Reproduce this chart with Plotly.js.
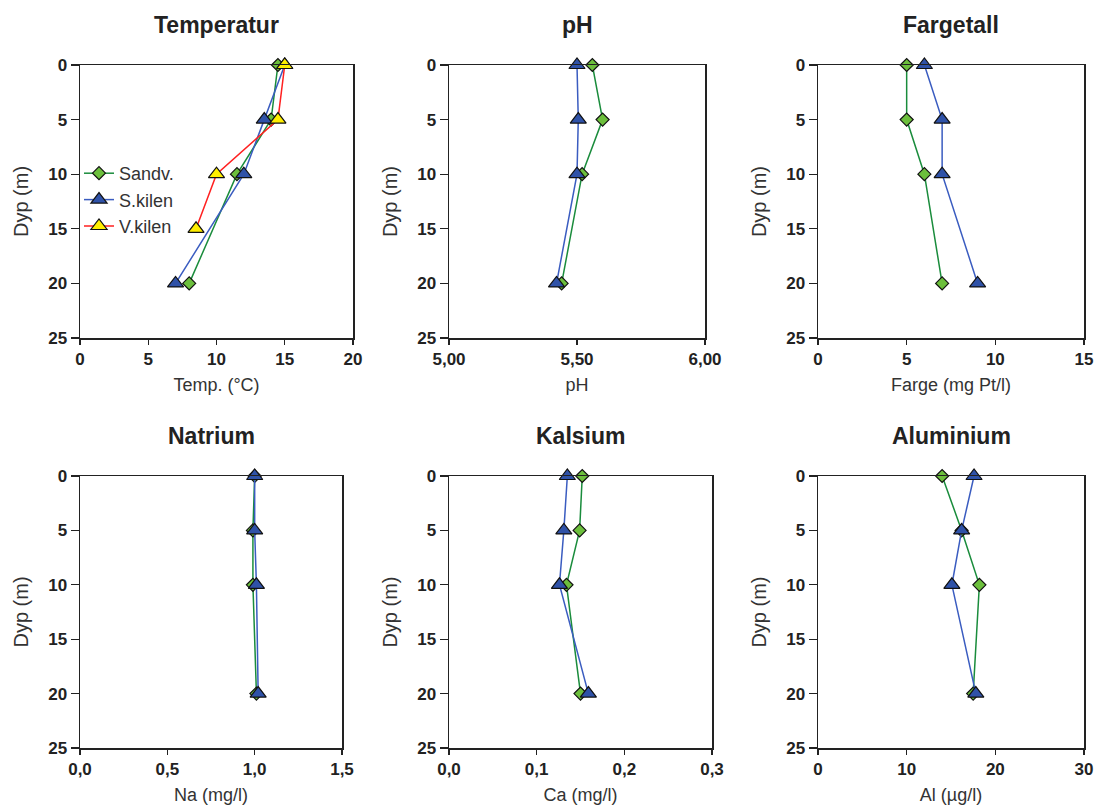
<!DOCTYPE html>
<html>
<head>
<meta charset="utf-8">
<script src="https://cdn.plot.ly/plotly-3.0.1.min.js"></script>
<style>
  html, body { margin: 0; padding: 0; background: #fff; }
  #chart { width: 1096px; height: 809px; }
</style>
</head>
<body>
<div id="chart"></div>
<script>
// depths (m)
const depths = [0, 5, 10, 20];
const depthsV = [0, 5, 10, 15];

// Temperatur (°C)
const tempSandv = [14.5, 14, 11.5, 8];
const tempSkilen = [15, 13.5, 12, 7];
const tempVkilen = [15, 14.5, 10, 8.5];

// pH
const phSandv = [5.56, 5.60, 5.52, 5.44];
const phSkilen = [5.50, 5.505, 5.50, 5.42];

// Fargetall (mg Pt/l)
const fargeSandv = [5, 5, 6, 7];
const fargeSkilen = [6, 7, 7, 9];

// Natrium (mg/l)
const naSandv = [1.00, 0.99, 0.99, 1.01];
const naSkilen = [1.00, 1.00, 1.01, 1.02];

// Kalsium (mg/l)
const caSandv = [0.152, 0.149, 0.134, 0.150];
const caSkilen = [0.135, 0.131, 0.126, 0.159];

// Aluminium (µg/l)
const alSandv = [14, 16.2, 18.2, 17.5];
const alSkilen = [17.6, 16.2, 15.1, 17.8];

const W = 1096, H = 809;
const fontFam = 'Liberation Sans, Arial, sans-serif';

const style = {
    sandv: { name: 'Sandv.', line: '#1a8c3c', fill: '#6cbf3c', symbol: 'diamond', size: 10 },
    skilen: { name: 'S.kilen', line: '#3a5cc0', fill: '#2f52a8', symbol: 'triangle-up', size: 14 },
    vkilen: { name: 'V.kilen', line: '#ff2020', fill: '#ffee00', symbol: 'triangle-up', size: 14 }
};

// panel boxes in pixels [left, right, top, bottom]
const panels = [
    { title: 'Temperatur', xt: 'Temp. (°C)', box: [80, 353, 65, 338], range: [0, 20], dtick: 5, fmt: 'd' },
    { title: 'pH', xt: 'pH', box: [449, 705, 65, 338], range: [5, 6], dtick: 0.5, fmt: '.2f' },
    { title: 'Fargetall', xt: 'Farge (mg Pt/l)', box: [818, 1084, 65, 338], range: [0, 15], dtick: 5, fmt: 'd' },
    { title: 'Natrium', xt: 'Na (mg/l)', box: [80, 342, 476, 748], range: [0, 1.5], dtick: 0.5, fmt: '.1f' },
    { title: 'Kalsium', xt: 'Ca (mg/l)', box: [449, 712, 476, 748], range: [0, 0.3], dtick: 0.1, fmt: '.1f' },
    { title: 'Aluminium', xt: 'Al (µg/l)', box: [818, 1084, 476, 748], range: [0, 30], dtick: 10, fmt: 'd' }
];

const panelData = [
    [[tempSandv, depths, style.sandv], [tempSkilen, depths, style.skilen], [tempVkilen, depthsV, style.vkilen]],
    [[phSandv, depths, style.sandv], [phSkilen, depths, style.skilen]],
    [[fargeSandv, depths, style.sandv], [fargeSkilen, depths, style.skilen]],
    [[naSandv, depths, style.sandv], [naSkilen, depths, style.skilen]],
    [[caSandv, depths, style.sandv], [caSkilen, depths, style.skilen]],
    [[alSandv, depths, style.sandv], [alSkilen, depths, style.skilen]]
];

let traces = [];
let layout = {
    width: W, height: H,
    margin: { l: 0, r: 0, t: 0, b: 0 },
    paper_bgcolor: '#fff', plot_bgcolor: '#fff',
    font: { family: fontFam, color: '#222' },
    separators: ', ',
    showlegend: true,
    legend: {
        x: 79 / W, y: 1 - 155 / H, xanchor: 'left', yanchor: 'top',
        bgcolor: 'rgba(0,0,0,0)', font: { size: 18, color: '#333' },
        itemwidth: 30, tracegroupgap: 0
    },
    annotations: []
};

panels.forEach((p, i) => {
    const n = i + 1;
    const xa = n === 1 ? 'x' : 'x' + n;
    const ya = n === 1 ? 'y' : 'y' + n;
    const [l, r, t, b] = p.box;
    const axisCommon = {
        showline: true, linecolor: '#222', linewidth: 1.5, mirror: true,
        showgrid: false, zeroline: false, ticks: 'outside',
        tickcolor: '#222', tickwidth: 1.2,
        tickfont: { family: fontFam, size: 17, color: '#222', weight: 'bold' }
    };
    layout['xaxis' + (n === 1 ? '' : n)] = Object.assign({}, axisCommon, {
        anchor: ya, domain: [l / W, r / W], range: p.range, dtick: p.dtick, tick0: 0,
        tickformat: p.fmt, fixedrange: true, ticklen: 5,
        title: { text: p.xt, font: { size: 18, color: '#333' }, standoff: 10 }
    });
    layout['yaxis' + (n === 1 ? '' : n)] = Object.assign({}, axisCommon, {
        anchor: xa, domain: [1 - b / H, 1 - t / H], range: [25, 0], dtick: 5, tick0: 0,
        fixedrange: true, ticklen: 8,
        title: { text: 'Dyp (m)', font: { size: 20, color: '#333' }, standoff: 14 }
    });
    layout.annotations.push({
        xref: 'paper', yref: 'paper', x: (l + r) / 2 / W, y: 1 - (t - 40) / H,
        xanchor: 'center', yanchor: 'middle', showarrow: false, text: '<b>' + p.title + '</b>',
        font: { family: fontFam, size: 23, color: '#222' }
    });

    panelData[i].forEach(([xs, ys, s]) => {
        traces.push({
            type: 'scatter', mode: 'lines+markers', x: xs, y: ys, xaxis: xa, yaxis: ya,
            name: s.name, showlegend: n === 1, cliponaxis: false,
            line: { color: s.line, width: 1.5 },
            marker: { symbol: s.symbol, size: s.size, color: s.fill, line: { color: '#111', width: 1.2 } }
        });
    });
});

Plotly.newPlot('chart', traces, layout, { displayModeBar: false, staticPlot: true });
</script>
</body>
</html>
